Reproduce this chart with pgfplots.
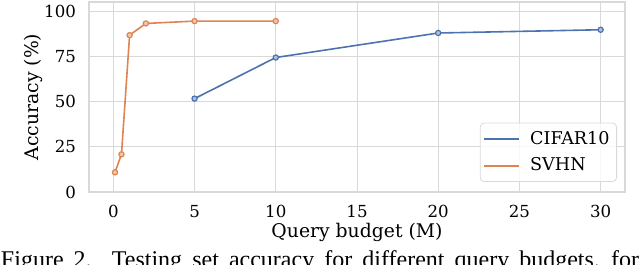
\documentclass[border=0pt]{standalone}
\usepackage{pgfplots}
\pgfplotsset{compat=1.18}
\usepackage{fontspec}
\setmainfont{DejaVu Serif}
\newfontfamily\capfont{Liberation Serif}
\definecolor{cblue}{HTML}{4C72B0}
\definecolor{corange}{HTML}{DD8452}
\definecolor{gridc}{HTML}{D9D9D9}
\begin{document}
\begin{tikzpicture}
\useasboundingbox (-44.5pt,-36.5pt) rectangle (275.5pt,96pt);
\begin{axis}[
  at={(0,0)}, anchor=south west,
  scale only axis, width=268pt, height=95pt,
  xmin=-1.5, xmax=31.5, ymin=0, ymax=105.4,
  xtick={0,5,...,30}, ytick={0,25,50,75,100},
  /pgf/number format/assume math mode=true,
  grid=major, grid style={gridc, line width=0.5pt},
  axis line style={gridc, line width=0.6pt},
  major tick length=0pt, tick style={draw=none},
  xticklabel shift=3pt, yticklabel shift=3pt,
  ticklabel style={font=\fontsize{8.3}{10}\selectfont},
  xlabel={Query budget (M)}, ylabel={Accuracy (\%)},
  label style={font=\fontsize{9.4}{11}\selectfont},
  xlabel style={at={(axis description cs:0.5,0)}, anchor=base, yshift=-23pt},
  ylabel style={at={(axis description cs:-0.1045,0.5)}, anchor=center},
  legend style={at={(1,0)}, anchor=south east, xshift=-4pt, yshift=5pt,
    draw=gridc, rounded corners=2pt, fill=white, fill opacity=0.8, text opacity=1, draw opacity=1,
    font=\fontsize{8.8}{10.5}\selectfont, row sep=1.2pt, inner xsep=1.5pt, inner ysep=2pt,
    /tikz/every odd column/.append style={column sep=3pt}},
  legend cell align=left,
  legend image code/.code={\draw[#1, mark=none, draw opacity=1, line width=1pt] (0pt,0pt) -- (17.5pt,0pt);},
]
\addplot[cblue, line width=0.8pt, mark=*, mark size=1.3pt,
  mark options={fill=cblue!45, draw=cblue, line width=0.6pt}]
  coordinates {(5,51.8) (10,74.6) (20,88.2) (30,90.0)};
\addlegendentry{CIFAR10}
\addplot[corange, line width=0.8pt, mark=*, mark size=1.3pt,
  mark options={fill=corange!45, draw=corange, line width=0.6pt}]
  coordinates {(0.1,10.9) (0.5,20.9) (1,87.0) (2,93.5) (5,94.8) (10,94.8)};
\addlegendentry{SVHN}
\end{axis}
\node[anchor=base west, inner sep=0pt] at (-44.2pt,-38pt)
  {\capfont\fontsize{12}{14}\selectfont\makebox[319pt][s]{Figure 2. Testing set accuracy for different query budgets, for}};
\end{tikzpicture}
\end{document}
